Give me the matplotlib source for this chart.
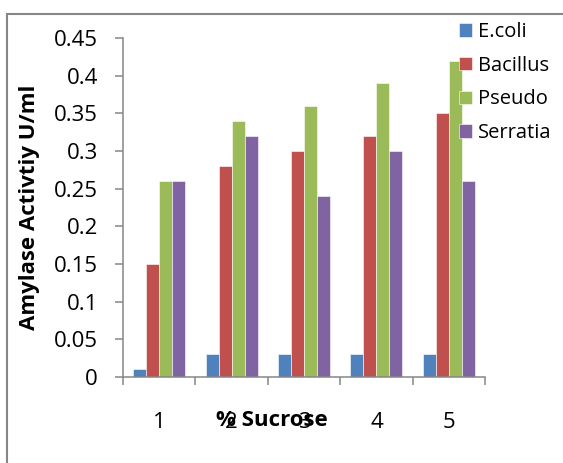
import numpy as np
import matplotlib
matplotlib.use("Agg")
import matplotlib.pyplot as plt
from matplotlib.patches import Rectangle

plt.rcParams['font.family'] = ['Open Sans', 'DejaVu Sans']

# % sucrose levels and amylase activity (U/ml) per organism
sucrose = ['1', '2', '3', '4', '5']
ecoli = [0.01, 0.03, 0.03, 0.03, 0.03]
bacillus = [0.15, 0.28, 0.30, 0.32, 0.35]
pseudo = [0.26, 0.34, 0.36, 0.39, 0.42]
serratia = [0.26, 0.32, 0.24, 0.30, 0.26]

series = [('E.coli', ecoli, '#4F81BD'),
          ('Bacillus', bacillus, '#C0504D'),
          ('Pseudo', pseudo, '#9BBB59'),
          ('Serratia', serratia, '#8064A2')]

W, H = 563, 463
fig = plt.figure(figsize=(W / 100, H / 100), dpi=100)

# chart frame
fig.patches.append(Rectangle((7 / W, -0.1), 1.2, 1 - 14 / H + 0.1,
                             transform=fig.transFigure, fill=False,
                             edgecolor='#868686', linewidth=1.5))

ax = fig.add_axes([123 / W, 1 - 377 / H, (485 - 123) / W, (377 - 38) / H])

x = np.arange(1, len(sucrose) + 1)
bw = 0.18
for i, (name, vals, col) in enumerate(series):
    ax.bar(x + (i - 1.5) * bw, vals, bw, color=col, edgecolor='white',
           linewidth=0.4, label=name)

ax.set_xlim(0.5, 5.5)
ax.set_ylim(0, 0.45)
ax.set_yticks(np.arange(0, 0.451, 0.05))
ax.set_yticklabels(['0', '0.05', '0.1', '0.15', '0.2', '0.25', '0.3',
                    '0.35', '0.4', '0.45'])

# category boundaries get tick marks, labels sit at the centres
ax.set_xticks(np.arange(0.5, 5.6, 1.0))
ax.set_xticklabels([])
ax.set_xticks(x, minor=True)
ax.set_xticklabels(sucrose, minor=True)
ax.tick_params(axis='x', which='major', length=6, width=1.1, color='#868686')
ax.tick_params(axis='x', which='minor', length=0, pad=25, labelsize=16)
ax.tick_params(axis='y', length=6, width=1.1, color='#868686', pad=12,
               labelsize=16)

for s in ['top', 'right']:
    ax.spines[s].set_visible(False)
for s in ['left', 'bottom']:
    ax.spines[s].set_color('#868686')
    ax.spines[s].set_linewidth(1.1)

# axis titles
fig.text(30 / W, 1 - 207.5 / H, 'Amylase Activtiy U/ml', fontsize=16,
         fontweight='bold', rotation=90, ha='center', va='center')
fig.text(272 / W, 1 - 420 / H, '% Sucrose', fontsize=16, fontweight='bold',
         ha='center', va='center')

ax.legend(loc='upper left', bbox_to_anchor=(459 / W, 1 - 22 / H),
          bbox_transform=fig.transFigure, frameon=False, fontsize=14.5,
          handlelength=0.65, handleheight=0.65, handletextpad=0.3,
          labelspacing=0.68, borderpad=0, borderaxespad=0)

fig.savefig('out.png', dpi=100)
